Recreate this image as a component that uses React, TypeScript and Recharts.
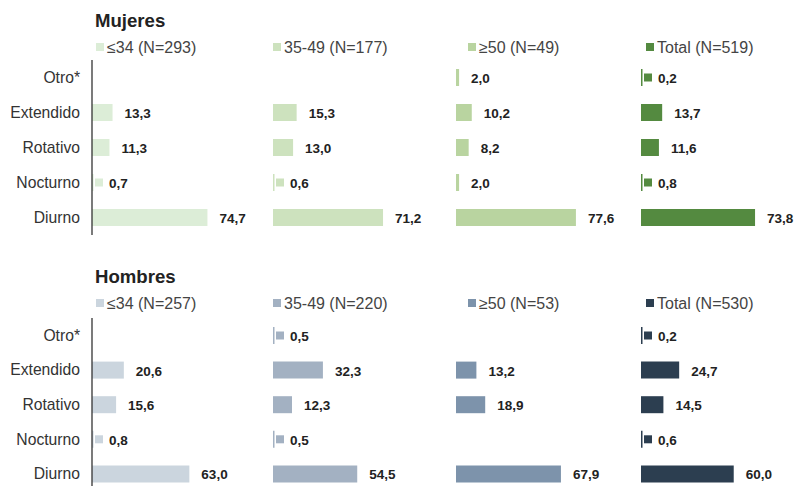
import React from 'react';
import { BarChart, Bar, XAxis, YAxis, LabelList } from 'recharts';

const categories = ['Otro*', 'Extendido', 'Rotativo', 'Nocturno', 'Diurno'];

const mujeresLabels = ['≤34 (N=293)', '35-49 (N=177)', '≥50 (N=49)', 'Total (N=519)'];
const mujeres34 = [null, 13.3, 11.3, 0.7, 74.7];
const mujeres3549 = [null, 15.3, 13.0, 0.6, 71.2];
const mujeres50 = [2.0, 10.2, 8.2, 2.0, 77.6];
const mujeresTotal = [0.2, 13.7, 11.6, 0.8, 73.8];
const mujeresColors = ['#dcedd7', '#cde2be', '#b9d4a0', '#548a40'];

const hombresLabels = ['≤34 (N=257)', '35-49 (N=220)', '≥50 (N=53)', 'Total (N=530)'];
const hombres34 = [null, 20.6, 15.6, 0.8, 63.0];
const hombres3549 = [0.5, 32.3, 12.3, 0.5, 54.5];
const hombres50 = [null, 13.2, 18.9, null, 67.9];
const hombresTotal = [0.2, 24.7, 14.5, 0.6, 60.0];
const hombresColors = ['#cbd5de', '#a3b1c2', '#7d93ab', '#2c3e50'];

const FONT = '"Liberation Sans", Arial, sans-serif';
const COL_LEFT = [92, 273, 456, 641];
const LEGEND_LEFT = [96, 273, 468, 646];
const PLOT_W = 170;
const X_MAX = 110;

const toRows = (values: (number | null)[]) => categories.map((cat, i) => ({ cat, value: values[i] }));
const fmt = (v: number) => v.toFixed(1).replace('.', ',');

const makeLabel = (color: string) => (props: any) => {
  const vb = props.viewBox || {};
  const x = props.x ?? vb.x;
  const y = props.y ?? vb.y;
  const width = props.width ?? vb.width;
  const height = props.height ?? vb.height;
  const value = props.value;
  if (value == null || x == null) return null;
  const cy = y + height / 2;
  const small = value < 1;
  // tiny shares get a little key square next to the hairline bar
  const tx = small ? x + 17 : x + width + 12;
  return (
    <g>
      {small && <rect x={x + 3} y={cy - 4} width={8} height={8} fill={color} />}
      <text x={tx} y={cy} dy="0.4em" fontFamily={FONT} fontSize={13.5} fontWeight="bold" fill="#222">
        {fmt(value)}
      </text>
    </g>
  );
};

interface SubProps {
  values: (number | null)[];
  color: string;
  col: number;
  top: number;
  height: number;
}

const SubChart: React.FC<SubProps> = ({ values, color, col, top, height }) => {
  const first = col === 0;
  const axisW = first ? 92 : 0;
  const left = first ? 0 : COL_LEFT[col];
  return (
    <div style={{ position: 'absolute', left, top }}>
      <BarChart
        width={axisW + PLOT_W + 45}
        height={height}
        data={toRows(values)}
        layout="vertical"
        margin={{ top: 0, right: 45, bottom: 0, left: 0 }}
        barCategoryGap={0}
      >
        <XAxis type="number" domain={[0, X_MAX]} hide />
        <YAxis
          type="category"
          dataKey="cat"
          hide={!first}
          width={axisW}
          axisLine={{ stroke: '#333', strokeWidth: 1.3 }}
          tickLine={false}
          tickSize={0}
          tickMargin={12}
          tick={{ fill: '#333', fontSize: 15.7, fontFamily: FONT }}
          interval={0}
        />
        <Bar
          dataKey="value"
          fill={color}
          barSize={17}
          minPointSize={(v: any) => (v == null ? 0 : 1.5)}
          isAnimationActive={false}
        >
          <LabelList dataKey="value" content={makeLabel(color)} />
        </Bar>
      </BarChart>
    </div>
  );
};

interface PanelProps {
  title: string;
  labels: string[];
  series: (number | null)[][];
  colors: string[];
  offset: number;
  plotTop: number;
  plotH: number;
}

const Panel: React.FC<PanelProps> = ({ title, labels, series, colors, offset, plotTop, plotH }) => (
  <>
    <div
      style={{
        position: 'absolute', left: 95, top: 11 + offset, fontSize: 18.6, lineHeight: '19px',
        fontWeight: 'bold', color: '#222', fontFamily: FONT,
      }}
    >
      {title}
    </div>
    {labels.map((lab, i) => (
      <div
        key={lab}
        style={{
          position: 'absolute', left: LEGEND_LEFT[i], top: 40 + offset, display: 'flex',
          alignItems: 'flex-start', fontSize: 16, lineHeight: '16px', color: '#444', fontFamily: FONT,
          whiteSpace: 'nowrap',
        }}
      >
        <span style={{ display: 'inline-block', width: 8, height: 8, marginTop: 3, marginRight: 3, background: colors[i] }} />
        <span>{lab}</span>
      </div>
    ))}
    {series.map((vals, i) => (
      <SubChart key={i} values={vals} color={colors[i]} col={i} top={plotTop} height={plotH} />
    ))}
  </>
);

export default function App() {
  return (
    <div
      style={{
        position: 'absolute', left: 0, top: 0, width: 796, height: 486,
        overflow: 'hidden', background: '#fff', fontFamily: FONT,
      }}
    >
      <Panel
        title="Mujeres"
        labels={mujeresLabels}
        series={[mujeres34, mujeres3549, mujeres50, mujeresTotal]}
        colors={mujeresColors}
        offset={0}
        plotTop={60}
        plotH={175}
      />
      <Panel
        title="Hombres"
        labels={hombresLabels}
        series={[hombres34, hombres3549, hombres50, hombresTotal]}
        colors={hombresColors}
        offset={256}
        plotTop={318}
        plotH={173}
      />
    </div>
  );
}
